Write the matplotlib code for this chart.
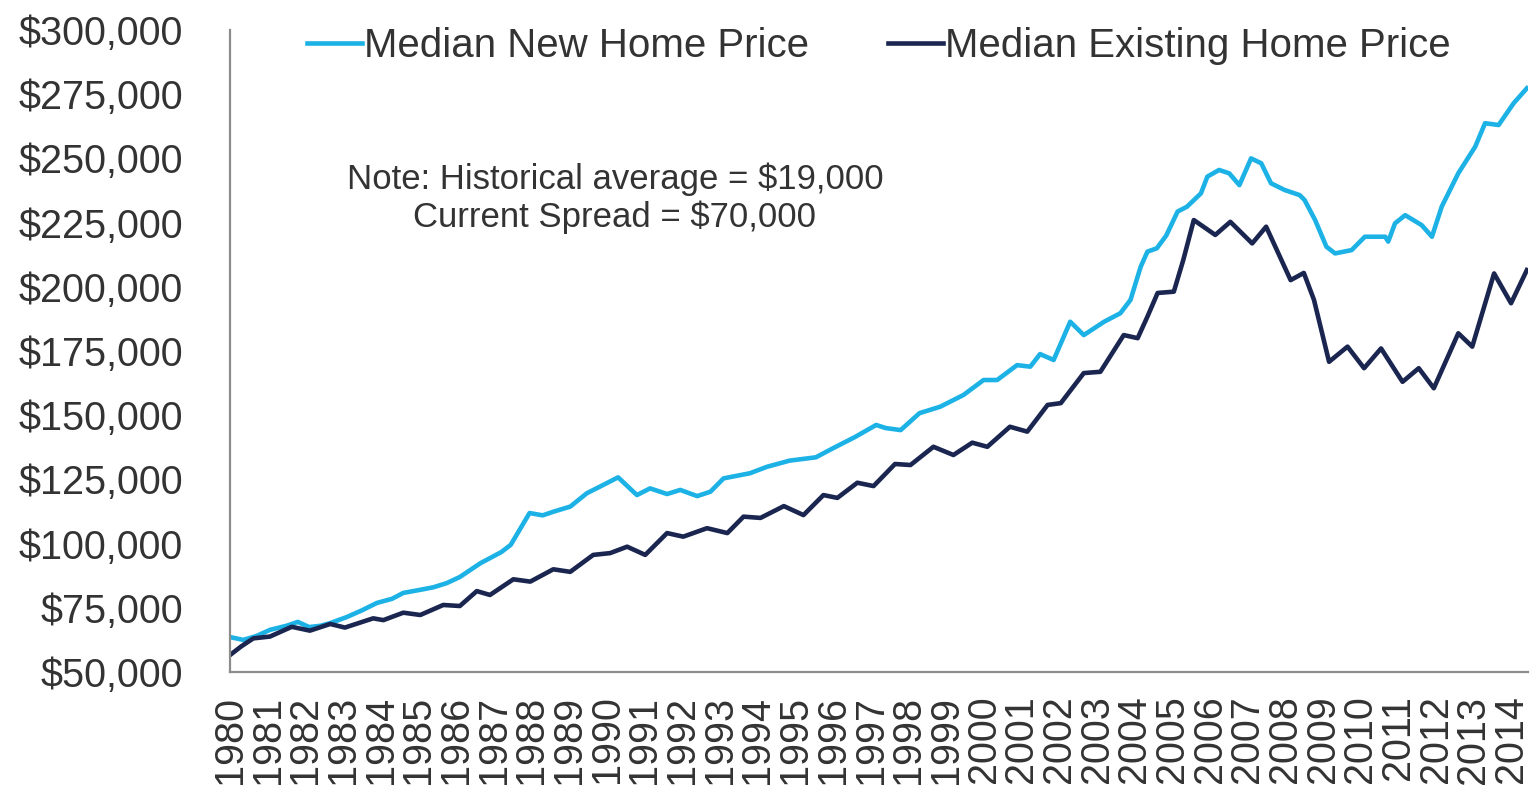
import matplotlib
matplotlib.use("Agg")
import matplotlib.pyplot as plt
from matplotlib.ticker import FuncFormatter

plt.rcParams['font.family'] = ['Liberation Sans', 'DejaVu Sans']

# Median New Home Price (decimal year, thousands of $)
new_years = [1980.0, 1980.35, 1980.7, 1981.06, 1981.5, 1981.8, 1982.1, 1982.4, 1982.65, 1983.1,
             1983.5, 1983.9, 1984.3, 1984.6, 1985.05, 1985.4, 1985.75, 1986.1, 1986.65, 1987.2,
             1987.45, 1987.95, 1988.3, 1988.6, 1989.03, 1989.47, 1989.82, 1990.3, 1990.8, 1991.15,
             1991.6, 1991.95, 1992.4, 1992.75, 1993.1, 1993.8, 1994.25, 1994.85, 1995.55, 1996.0,
             1996.6, 1997.15, 1997.4, 1997.8, 1998.3, 1998.85, 1999.47, 2000.0, 2000.36, 2000.89,
             2001.24, 2001.5, 2001.86, 2002.3, 2002.66, 2003.2, 2003.63, 2003.9, 2004.17, 2004.35,
             2004.6, 2004.85, 2005.15, 2005.4, 2005.77, 2005.94, 2006.25, 2006.52, 2006.79, 2007.1,
             2007.37, 2007.63, 2007.99, 2008.39, 2008.52, 2008.8, 2009.1, 2009.33, 2009.77, 2010.12,
             2010.66, 2010.74, 2010.92, 2011.19, 2011.63, 2011.9, 2012.16, 2012.6, 2013.05, 2013.31,
             2013.67, 2014.07, 2014.42]
new_prices = [63.6, 62.5, 64.0, 66.4, 68.0, 69.5, 67.5, 68.0, 69.0, 71.4,
              74.0, 76.9, 78.5, 80.8, 82.0, 83.0, 84.6, 87.0, 92.4, 96.7,
              99.5, 111.9, 111.0, 112.5, 114.4, 119.6, 122.2, 125.8, 118.9, 121.5,
              119.3, 120.9, 118.5, 120.2, 125.4, 127.4, 129.9, 132.3, 133.6, 137.1,
              141.6, 146.2, 145.0, 144.2, 150.8, 153.3, 157.9, 163.7, 163.7, 169.5,
              168.9, 173.8, 171.5, 186.4, 181.2, 186.4, 189.7, 194.9, 207.8, 213.7,
              215.0, 220.0, 229.3, 231.2, 236.4, 242.9, 245.5, 244.2, 239.6, 250.0,
              248.1, 240.3, 237.7, 235.7, 233.8, 226.0, 215.6, 213.0, 214.3, 219.5,
              219.5, 217.6, 224.7, 227.9, 224.0, 219.5, 231.2, 244.2, 254.6, 263.7,
              263.0, 271.5, 277.3]

# Median Existing Home Price (decimal year, thousands of $)
existing_years = [1980.0, 1980.3, 1980.62, 1981.06, 1981.64, 1982.12, 1982.66, 1983.05, 1983.8, 1984.07,
                  1984.6, 1985.05, 1985.66, 1986.1, 1986.55, 1986.9, 1987.52, 1987.97, 1988.58, 1989.03,
                  1989.64, 1990.09, 1990.54, 1991.02, 1991.6, 1992.03, 1992.66, 1993.2, 1993.63, 1994.08,
                  1994.7, 1995.22, 1995.75, 1996.12, 1996.65, 1997.08, 1997.65, 1998.06, 1998.67, 1999.2,
                  1999.7, 2000.1, 2000.7, 2001.16, 2001.7, 2002.05, 2002.66, 2003.1, 2003.72, 2004.09,
                  2004.35, 2004.62, 2005.05, 2005.3, 2005.58, 2006.15, 2006.55, 2007.13, 2007.5, 2008.15,
                  2008.5, 2008.77, 2009.17, 2009.66, 2010.1, 2010.55, 2011.12, 2011.55, 2011.95, 2012.6,
                  2012.97, 2013.55, 2014.0, 2014.42]
existing_prices = [56.6, 60.0, 63.1, 63.8, 67.6, 66.1, 68.7, 67.3, 70.9, 70.2,
                   73.1, 72.2, 76.1, 75.7, 81.5, 80.0, 86.1, 85.2, 90.0, 89.0,
                   95.6, 96.3, 98.8, 95.6, 104.1, 102.7, 106.0, 104.1, 110.5, 110.0,
                   114.6, 111.1, 118.9, 117.8, 123.7, 122.4, 131.0, 130.6, 137.7, 134.5,
                   139.3, 137.7, 145.5, 143.6, 154.0, 154.7, 166.4, 166.9, 181.2, 180.0,
                   188.4, 197.6, 198.1, 210.4, 226.0, 220.2, 225.3, 216.9, 223.4, 202.6,
                   205.4, 194.9, 170.8, 176.7, 168.3, 176.0, 163.0, 168.3, 160.5, 181.9,
                   176.7, 205.2, 193.6, 206.5]

tick_years = list(range(1980, 2015))
y_ticks = [50000, 75000, 100000, 125000, 150000, 175000, 200000, 225000, 250000, 275000, 300000]
note_text = "Note: Historical average = $19,000\nCurrent Spread = $70,000"

NEW_COLOR = '#1CB2E6'
EXIST_COLOR = '#1B2650'
TEXT_COLOR = '#333333'

fig = plt.figure(figsize=(15.31, 7.93), dpi=100)
ax = fig.add_axes([230 / 1531, 1 - 672 / 793, 1298 / 1531, 642 / 793])

ax.plot(new_years, [v * 1000 for v in new_prices], color=NEW_COLOR, lw=3.3,
        label='Median New Home Price', solid_joinstyle='round')
ax.plot(existing_years, [v * 1000 for v in existing_prices], color=EXIST_COLOR, lw=3.3,
        label='Median Existing Home Price', solid_joinstyle='round')

ax.set_xlim(1980, 2014.45)
ax.set_ylim(50000, 300000)
ax.set_yticks(y_ticks)
ax.yaxis.set_major_formatter(FuncFormatter(lambda v, p: "${:,.0f}".format(v)))
ax.set_xticks(tick_years)
ax.set_xticklabels([str(y) for y in tick_years], rotation=90)

ax.tick_params(axis='y', length=0, pad=34, labelsize=28.5, labelcolor=TEXT_COLOR)
ax.tick_params(axis='x', length=0, pad=17, labelsize=28.5, labelcolor=TEXT_COLOR)

for side in ['top', 'right']:
    ax.spines[side].set_visible(False)
for side in ['left', 'bottom']:
    ax.spines[side].set_color('#8C8C8C')
    ax.spines[side].set_linewidth(1.6)

leg = ax.legend(loc='upper center', bbox_to_anchor=(0.5, 1.004), ncol=2, frameon=False,
                fontsize=29, handlelength=1.375, handletextpad=0.05, columnspacing=1.95,
                borderaxespad=0, borderpad=0)
for t in leg.get_texts():
    t.set_color(TEXT_COLOR)

ax.text(0.2966, 0.738, note_text, transform=ax.transAxes, ha='center', va='center',
        multialignment='center', fontsize=25, color=TEXT_COLOR, linespacing=1.2)

fig.savefig('out.png', dpi=100)
